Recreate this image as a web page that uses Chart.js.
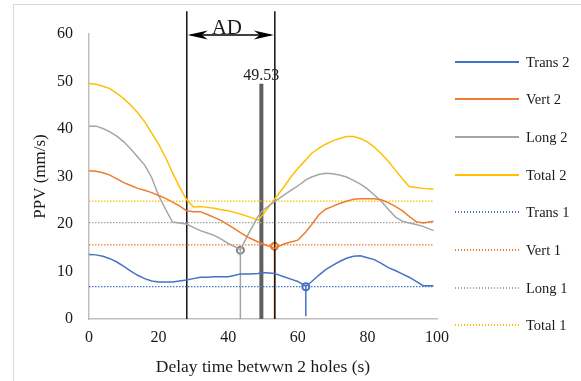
<!DOCTYPE html>
<html>
<head>
<meta charset="utf-8">
<script src="https://cdn.jsdelivr.net/npm/chart.js@4.4.1/dist/chart.umd.min.js"></script>
<style>
  body { margin: 0; background: #fff; }
  #wrap { position: relative; width: 581px; height: 381px; overflow: hidden; }
  #frame { position: absolute; left: 13px; top: 4px; width: 700px; height: 500px; border: 1.5px solid #d9d9d9; box-sizing: border-box; }
  #chart { position: absolute; left: 0; top: 0; }
  #legend { position: absolute; left: 455px; top: 0; font-family: 'Liberation Serif', 'Times New Roman', serif; font-size: 14.5px; color: #1a1a1a; }
  .item { position: absolute; left: 0; height: 20px; white-space: nowrap; }
  .swatch { position: absolute; left: 0; top: 9px; width: 64px; height: 2px; }
  .label { position: absolute; left: 71px; top: 0; line-height: 20px; }
</style>
</head>
<body>
<div id="wrap">
  <div id="frame"></div>
  <canvas id="chart" width="581" height="381"></canvas>
  <div id="legend"></div>
</div>
<script>
/* ---------- data ---------- */
const delay = [0, 2, 4, 6, 8, 10, 12, 14, 16, 18, 20, 22, 24, 26, 28, 30, 32, 34, 36, 38, 40, 42,
  43.5, 46, 48.6, 50, 53.3, 56, 58, 60, 62.3, 64, 66, 68, 70, 72, 74, 76, 78, 80, 82, 84, 86, 88,
  90, 92, 94, 96, 99];

const trans2 = [13.6, 13.5, 13.2, 12.7, 12.0, 11.1, 10.1, 9.2, 8.5, 8.0, 7.8, 7.8, 7.8, 8.0, 8.2,
  8.5, 8.8, 8.8, 8.9, 8.9, 8.9, 9.2, 9.5, 9.5, 9.6, 9.8, 9.6, 8.9, 8.4, 7.9, 6.9, 7.9, 9.2, 10.4,
  11.3, 12.1, 12.8, 13.2, 13.3, 12.9, 12.5, 11.7, 10.8, 10.2, 9.5, 8.8, 7.9, 7.0, 7.0];

const vert2 = [31.2, 31.1, 30.8, 30.3, 29.5, 28.7, 28.1, 27.5, 27.1, 26.6, 26.0, 25.4, 24.6, 23.8,
  22.8, 22.6, 22.6, 22.0, 21.4, 20.7, 19.8, 18.9, 18.2, 17.1, 16.2, 15.8, 14.9, 15.8, 16.2, 16.6,
  18.3, 19.9, 21.9, 23.1, 23.7, 24.3, 24.8, 25.2, 25.3, 25.3, 25.3, 25.1, 24.5, 23.7, 22.8, 21.6,
  20.5, 20.2, 20.6];

const long2 = [40.6, 40.6, 40.1, 39.4, 38.5, 37.3, 35.8, 34.1, 32.4, 29.8, 26.0, 23.1, 20.4, 20.2,
  20.0, 19.3, 18.6, 18.1, 17.6, 16.8, 15.9, 15.2, 14.6, 18.2, 21.6, 22.9, 24.7, 26.1, 27.1, 28.0,
  29.3, 29.9, 30.4, 30.7, 30.6, 30.3, 29.9, 29.2, 28.4, 27.4, 26.1, 24.8, 23.1, 21.5, 20.6, 20.2,
  19.9, 19.5, 18.6];

const total2 = [49.6, 49.4, 49.0, 48.5, 47.5, 46.4, 45.0, 43.4, 41.5, 39.2, 36.8, 34.0, 30.8, 27.8,
  25.2, 23.6, 23.7, 23.5, 23.3, 23.0, 22.8, 22.4, 22.1, 21.5, 20.8, 22.0, 25.2, 27.8, 29.9, 31.7,
  33.5, 34.9, 35.9, 36.8, 37.5, 38.0, 38.4, 38.4, 38.0, 37.3, 36.2, 34.8, 33.2, 31.4, 29.6, 27.9,
  27.7, 27.5, 27.3];

// hole 1 levels (flat reference lines)
const refX = [0, 99];
const trans1 = [6.8, 6.8];
const vert1 = [15.6, 15.6];
const long1 = [20.3, 20.3];
const total1 = [24.8, 24.8];

// minimum markers with drop lines (Long 2, Vert 2, Trans 2)
const minX = [43.5, 53.3, 62.3];
const minY = [14.5, 15.3, 6.8];
const dropTo = [0, 0, 0.6];

// AD window and peak
const adLines = [28.1, 53.4];
const adTop = 64.8;
const adArrowY = 59.8;
const peakX = 49.53;
const peakY = 49.53;

const names = ['Trans 2', 'Vert 2', 'Long 2', 'Total 2', 'Trans 1', 'Vert 1', 'Long 1', 'Total 1'];
const colors = ['#4472c4', '#ed7d31', '#a5a5a5', '#ffc000', '#4472c4', '#ed7d31', '#a5a5a5', '#ffc000'];

const serif = "'Liberation Serif', 'Times New Roman', serif";
const textColor = '#1a1a1a';

/* ---------- datasets ---------- */
const toPts = (xs, ys) => xs.map((x, i) => ({ x, y: ys[i] }));

const solidSeries = [trans2, vert2, long2, total2];
const dottedSeries = [trans1, vert1, long1, total1];

const datasets = [];

solidSeries.forEach((ys, i) => {
  datasets.push({
    label: names[i],
    data: toPts(delay, ys),
    borderColor: colors[i],
    borderWidth: 1.5,
    pointRadius: 0,
    tension: 0
  });
});

dottedSeries.forEach((ys, i) => {
  datasets.push({
    label: names[i + 4],
    data: toPts(refX, ys),
    borderColor: colors[i + 4],
    borderWidth: 1.3,
    borderDash: [1.5, 1.5],
    pointRadius: 0
  });
});

// AD boundary lines
adLines.forEach(x => {
  datasets.push({
    data: [{ x, y: 0 }, { x, y: adTop }],
    borderColor: '#111',
    borderWidth: 1.5,
    pointRadius: 0,
    clip: false
  });
});

// peak bar
datasets.push({
  data: [{ x: peakX, y: 0 }, { x: peakX, y: peakY }],
  borderColor: '#5f5f5f',
  borderWidth: 4,
  pointRadius: 0,
  clip: false
});

// drop lines + markers
const markerColors = ['#7f7f7f', '#ed7d31', '#4472c4'];
const dropColors = ['#a5a5a5', '#ed7d31', '#4472c4'];
minX.forEach((x, i) => {
  datasets.push({
    data: [{ x, y: dropTo[i] }, { x, y: minY[i] }],
    borderColor: dropColors[i],
    borderWidth: 1.5,
    pointRadius: 0,
    clip: false
  });
  datasets.push({
    data: [{ x, y: minY[i] }],
    showLine: false,
    pointRadius: 3.5,
    pointBorderWidth: 2,
    pointBorderColor: markerColors[i],
    pointBackgroundColor: '#fff',
    clip: false
  });
});

/* ---------- annotations ---------- */
function arrowHead(ctx, tipX, tipY, dir) {
  ctx.beginPath();
  ctx.moveTo(tipX, tipY);
  ctx.lineTo(tipX + dir * 20, tipY - 4.5);
  ctx.lineTo(tipX + dir * 14, tipY);
  ctx.lineTo(tipX + dir * 20, tipY + 4.5);
  ctx.closePath();
  ctx.fill();
}

const annotations = {
  id: 'annotations',
  afterDatasetsDraw(chart) {
    const { ctx, scales: { x, y } } = chart;
    const x1 = x.getPixelForValue(adLines[0]);
    const x2 = x.getPixelForValue(adLines[1]);
    const ay = y.getPixelForValue(adArrowY);
    ctx.save();
    ctx.strokeStyle = '#000';
    ctx.fillStyle = '#000';
    ctx.lineWidth = 1.5;
    ctx.beginPath();
    ctx.moveTo(x1 + 4, ay);
    ctx.lineTo(x2 - 4, ay);
    ctx.stroke();
    arrowHead(ctx, x1 + 1, ay, 1);
    arrowHead(ctx, x2 - 1, ay, -1);

    ctx.fillStyle = textColor;
    ctx.font = `21px ${serif}`;
    ctx.textAlign = 'center';
    ctx.textBaseline = 'alphabetic';
    ctx.fillText('AD', (x1 + x2) / 2 - 4, ay - 1);

    const px = x.getPixelForValue(peakX);
    const py = y.getPixelForValue(peakY);
    ctx.font = `16px ${serif}`;
    ctx.fillText(peakY.toFixed(2), px, py - 4);
    ctx.restore();
  }
};

/* ---------- chart ---------- */
new Chart(document.getElementById('chart').getContext('2d'), {
  type: 'line',
  data: { datasets },
  options: {
    responsive: false,
    animation: false,
    devicePixelRatio: 1,
    layout: { padding: { top: 34, right: 144, bottom: 0, left: 0 } },
    plugins: { legend: { display: false }, tooltip: { enabled: false } },
    scales: {
      x: {
        type: 'linear',
        min: 0,
        max: 100,
        ticks: { stepSize: 20, padding: 9, maxRotation: 0, color: textColor, font: { family: serif, size: 16 } },
        grid: { display: false, drawTicks: false },
        border: { color: '#bfbfbf', width: 1.5 },
        title: {
          display: true,
          text: 'Delay time betwwn 2 holes (s)',
          color: textColor,
          font: { family: serif, size: 17.5 },
          padding: { top: 0, bottom: 3 }
        },
        afterFit: s => { s.height = 62; }
      },
      y: {
        min: 0,
        max: 60,
        ticks: { stepSize: 10, padding: 16, color: textColor, font: { family: serif, size: 16 } },
        grid: { display: false, drawTicks: false },
        border: { color: '#bfbfbf', width: 1.5 },
        title: {
          display: true,
          text: 'PPV (mm/s)',
          color: textColor,
          font: { family: serif, size: 17 },
          padding: { top: 30, bottom: 0 }
        },
        afterFit: s => { s.width = 89; }
      }
    }
  },
  plugins: [annotations]
});

/* ---------- legend ---------- */
const legendEl = document.getElementById('legend');
names.forEach((name, i) => {
  const item = document.createElement('div');
  item.className = 'item';
  item.style.top = Math.round(61.7 + i * 37.67 - 10) + 'px';
  const sw = document.createElement('div');
  sw.className = 'swatch';
  if (i < 4) {
    sw.style.background = colors[i];
  } else {
    sw.style.background = `repeating-linear-gradient(to right, ${colors[i]} 0 1.5px, transparent 1.5px 3px)`;
  }
  const txt = document.createElement('div');
  txt.className = 'label';
  txt.textContent = name;
  item.appendChild(sw);
  item.appendChild(txt);
  legendEl.appendChild(item);
});
</script>
</body>
</html>
